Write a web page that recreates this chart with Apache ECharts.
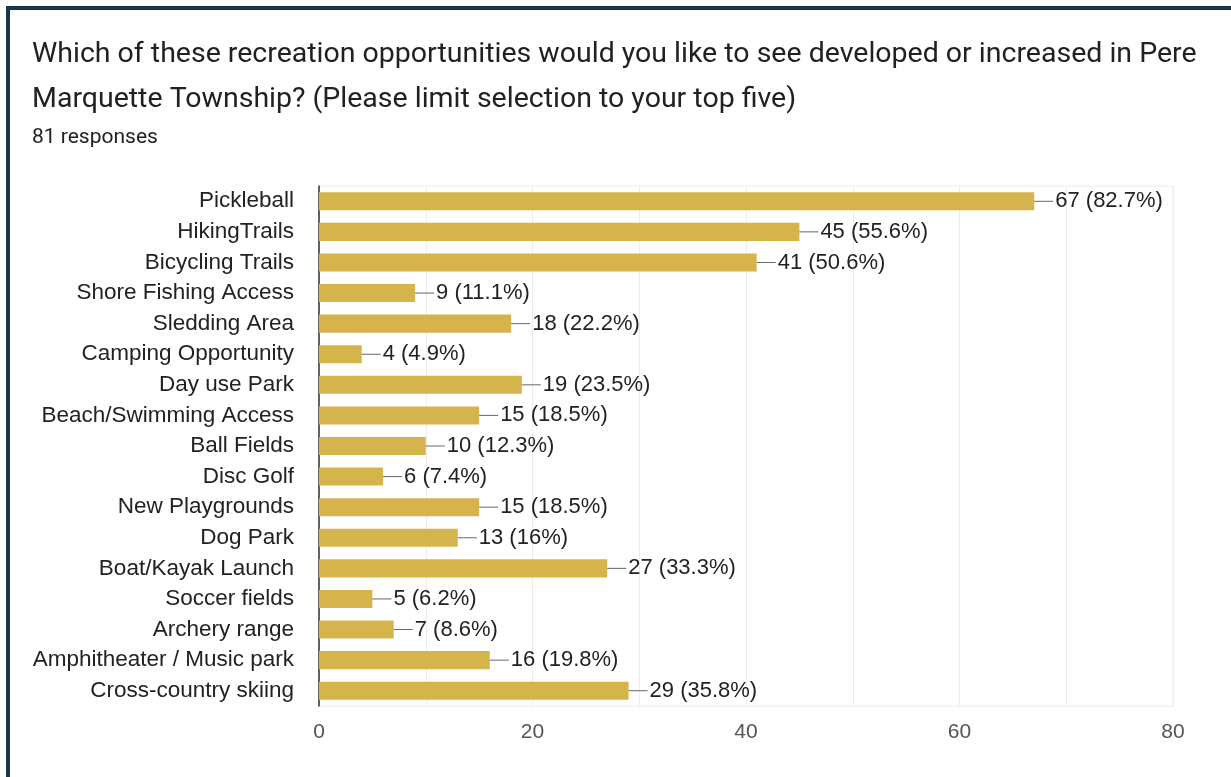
<!DOCTYPE html>
<html>
<head>
<meta charset="utf-8">
<script src="https://cdn.jsdelivr.net/npm/echarts@6/dist/echarts.min.js"></script>
<style>
  html, body { margin: 0; padding: 0; background: #fff; }
  #chart { width: 1231px; height: 777px; }
</style>
</head>
<body>
<div id="chart"></div>
<script>
// Survey options, top to bottom
const categories = [
  'Pickleball', 'HikingTrails', 'Bicycling Trails', 'Shore Fishing Access',
  'Sledding Area', 'Camping Opportunity', 'Day use Park', 'Beach/Swimming Access',
  'Ball Fields', 'Disc Golf', 'New Playgrounds', 'Dog Park', 'Boat/Kayak Launch',
  'Soccer fields', 'Archery range', 'Amphitheater / Music park', 'Cross-country skiing'
];
// Response counts per option
const counts = [67, 45, 41, 9, 18, 4, 19, 15, 10, 6, 15, 13, 27, 5, 7, 16, 29];
// Share of the 81 respondents, as printed
const percents = ['82.7%', '55.6%', '50.6%', '11.1%', '22.2%', '4.9%', '23.5%', '18.5%',
  '12.3%', '7.4%', '18.5%', '16%', '33.3%', '6.2%', '8.6%', '19.8%', '35.8%'];
// X axis labels
const xTicks = [0, 20, 40, 60, 80];

const titleText = 'Which of these recreation opportunities would you like to see developed or increased in Pere\nMarquette Township? (Please limit selection to your top five)';
const subText = '81 responses';

const chart = echarts.init(document.getElementById('chart'), null, { renderer: 'canvas' });

chart.setOption({
  backgroundColor: '#ffffff',
  animation: false,
  title: {
    text: titleText,
    subtext: subText,
    left: 27,
    top: 27,
    itemGap: 4,
    textStyle: {
      fontFamily: 'Roboto',
      fontSize: 28.5,
      fontWeight: 'normal',
      color: '#202124',
      lineHeight: 45
    },
    subtextStyle: {
      fontFamily: 'Roboto',
      fontSize: 21,
      color: '#202124',
      lineHeight: 24
    }
  },
  graphic: [
    { type: 'rect', shape: { x: 6, y: 6, width: 4, height: 771 }, style: { fill: '#1c3250' }, silent: true },
    { type: 'rect', shape: { x: 6, y: 6, width: 1225, height: 4 }, style: { fill: '#1c3250' }, silent: true }
  ],
  grid: {
    left: 319,
    right: 58,
    top: 186,
    bottom: 71,
    show: true,
    borderColor: '#ececec',
    borderWidth: 1
  },
  xAxis: {
    type: 'value',
    min: 0,
    max: 80,
    interval: 10,
    axisLine: { show: false },
    axisTick: { show: false },
    splitLine: { lineStyle: { color: '#ececec', width: 1 } },
    axisLabel: {
      margin: 16,
      fontFamily: 'Liberation Sans',
      fontSize: 21,
      color: '#555',
      formatter: v => (xTicks.indexOf(v) >= 0 ? String(v) : '')
    }
  },
  yAxis: {
    type: 'category',
    data: categories,
    inverse: true,
    axisLine: { show: true, lineStyle: { color: '#333', width: 1.5 } },
    axisTick: { show: false },
    splitLine: { show: false },
    axisLabel: {
      margin: 25,
      fontFamily: 'Liberation Sans',
      fontSize: 22.5,
      color: '#222'
    }
  },
  series: [{
    type: 'bar',
    data: counts,
    barCategoryGap: '41%',
    itemStyle: { color: '#d5b44c' },
    label: {
      show: true,
      position: 'right',
      distance: 0,
      formatter: p => '{l|}{t|' + counts[p.dataIndex] + ' (' + percents[p.dataIndex] + ')}',
      rich: {
        l: { width: 19, height: 1, backgroundColor: '#666' },
        t: { fontFamily: 'Liberation Sans', fontSize: 22, color: '#222', padding: [0, 0, 0, 2] }
      }
    }
  }]
});
</script>
</body>
</html>
